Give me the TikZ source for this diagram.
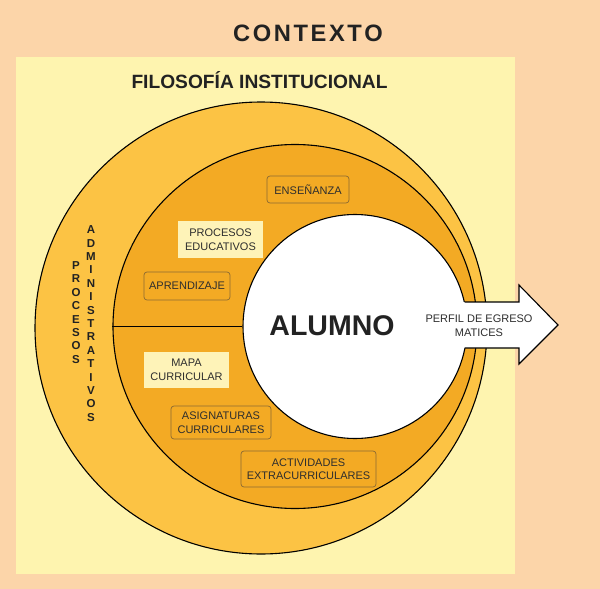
\documentclass[tikz,border=0pt]{standalone}
\usepackage{fontspec}
\setmainfont{Liberation Sans}
\definecolor{peach}{HTML}{FCD5A9}
\definecolor{paleyellow}{HTML}{FEF4AF}
\definecolor{ringlight}{HTML}{FCC344}
\definecolor{ringdark}{HTML}{F3AA24}
\definecolor{boxlight}{HTML}{FEF3B8}
\definecolor{boxline}{HTML}{8C6A33}
\definecolor{inkdark}{HTML}{222222}
\definecolor{boxtext}{HTML}{2E2E2E}
\tikzset{
  ring/.style={circle, draw=black, line width=1.1pt, inner sep=0pt},
  smalltext/.style={font=\fontsize{11}{13.5}\selectfont, text=boxtext, align=center, inner sep=0pt},
  obox/.style={smalltext, draw=boxline, line width=0.7pt, rounded corners=3pt, fill=ringdark},
  lbox/.style={smalltext, fill=boxlight},
  vlet/.style={font=\bfseries\fontsize{11.5}{13.4}\selectfont, text=inkdark, align=center, inner sep=0pt},
}
\begin{document}
\begin{tikzpicture}[x=1pt,y=-1pt]
\useasboundingbox (0,0) rectangle (600,589);
\fill[peach] (0,0) rectangle (600,589);
\fill[paleyellow] (16,57) rectangle (515,574);

\node[anchor=base, text=inkdark, font=\bfseries\fontsize{23.7}{26}\selectfont] (contexto) at (308,41)
  {C\kern2.6pt O\kern2.6pt N\kern2.6pt T\kern2.6pt E\kern2.6pt X\kern2.6pt T\kern2.6pt O};
\node[anchor=base, text=inkdark, font=\bfseries\fontsize{19.2}{22}\selectfont] (filosofia) at (259.5,88)
  {FILOSOFÍA INSTITUCIONAL};

\node[ring, fill=ringlight, minimum size=452pt] (outer) at (261,328) {};
\node[ring, fill=ringdark, minimum size=364pt] (middle) at (295,326.5) {};
\node[ring, fill=white, minimum size=224pt] (alumnocircle) at (355,326.5) {};
\draw[line width=1.1pt] (middle.west) -- (alumnocircle.west);

% arrow
\coordinate (at1) at (464.6,302);
\coordinate (at2) at (519,302);
\coordinate (at3) at (519,285);
\coordinate (tip) at (558,325);
\coordinate (ab3) at (519,364);
\coordinate (ab2) at (519,348);
\coordinate (ab1) at (464.6,348);
\fill[white] (450,302) -- (at2) -- (at3) -- (tip) -- (ab3) -- (ab2) -- (450,348) -- cycle;
\draw[line width=1.1pt, line join=miter] (at1) -- (at2) -- (at3) -- (tip) -- (ab3) -- (ab2) -- (ab1);
\node[smalltext, font=\fontsize{11}{14}\selectfont] (perfil) at (479,326) {PERFIL DE EGRESO\\MATICES};

\node[anchor=base, text=inkdark, font=\bfseries\fontsize{28.5}{30}\selectfont] (alumno) at (332,335) {ALUMNO};

\node[obox, minimum width=82pt, minimum height=27pt] (ensenanza) at (308,189.5) {ENSEÑANZA};
\node[lbox, minimum width=85pt, minimum height=37pt] (procedu) at (220.5,239.5) {PROCESOS\\EDUCATIVOS};
\node[obox, minimum width=86pt, minimum height=28pt] (aprendizaje) at (187,286) {APRENDIZAJE};
\node[lbox, minimum width=85pt, minimum height=36pt] (mapa) at (186.5,370) {MAPA\\CURRICULAR};
\node[obox, minimum width=100pt, minimum height=33pt] (asignaturas) at (221,422.5) {ASIGNATURAS\\CURRICULARES};
\node[obox, minimum width=135pt, minimum height=36pt] (actividades) at (308.5,469) {ACTIVIDADES\\EXTRACURRICULARES};

\node[vlet] (procesos) at (76,312.5) {P\\R\\O\\C\\E\\S\\O\\S};
\node[vlet] (administrativos) at (91,323.5) {A\\D\\M\\I\\N\\I\\S\\T\\R\\A\\T\\I\\V\\O\\S};
\end{tikzpicture}
\end{document}
